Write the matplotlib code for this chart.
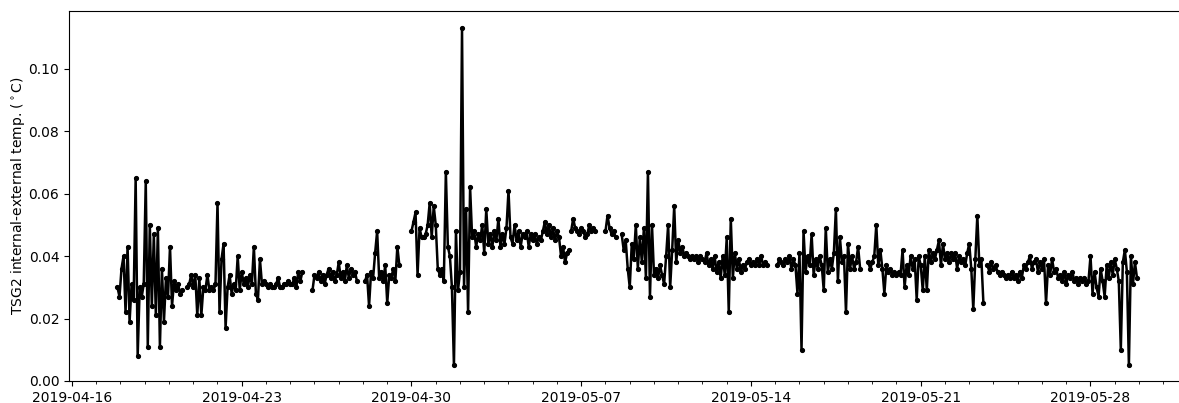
import numpy as np
import pandas as pd
import matplotlib
matplotlib.use('Agg')
import matplotlib.pyplot as plt
import matplotlib.dates as mdates

# TSG2 internal - external temperature difference, one value every 2 hours per segment
seg_starts = ['2019-04-17 21:00', '2019-04-20 18:00', '2019-04-25 22:00', '2019-04-28 02:00',
              '2019-04-30 00:00', '2019-05-06 14:00', '2019-05-08 00:00', '2019-05-08 16:00',
              '2019-05-15 02:00', '2019-05-18 20:00', '2019-05-23 18:00']

seg_a = [0.030, 0.027, 0.036, 0.040, 0.022, 0.043, 0.019, 0.031, 0.026, 0.065, 0.008, 0.030,
         0.027, 0.031, 0.064, 0.011, 0.050, 0.024, 0.047, 0.021, 0.049, 0.011, 0.036, 0.019,
         0.033, 0.027, 0.043, 0.024, 0.032, 0.029, 0.031, 0.028, 0.029]
seg_b = [0.030, 0.031, 0.034, 0.030, 0.034, 0.021, 0.033, 0.021, 0.030, 0.029, 0.034, 0.029,
         0.030, 0.029, 0.031, 0.057, 0.022, 0.039, 0.044, 0.017, 0.030, 0.034, 0.028, 0.031,
         0.029, 0.040, 0.029, 0.035, 0.031, 0.033, 0.030, 0.034, 0.031, 0.043, 0.028, 0.026,
         0.039, 0.031, 0.032, 0.031, 0.030, 0.031, 0.030, 0.030, 0.031, 0.033, 0.030, 0.030,
         0.031, 0.031, 0.032, 0.031, 0.031, 0.033, 0.030, 0.035, 0.032, 0.035]
seg_c = [0.029, 0.034, 0.033, 0.035, 0.032, 0.034, 0.031, 0.034, 0.036, 0.033, 0.035, 0.032,
         0.034, 0.038, 0.033, 0.035, 0.032, 0.037, 0.033, 0.036, 0.034, 0.035, 0.032]
seg_d = [0.032, 0.034, 0.024, 0.035, 0.033, 0.041, 0.048, 0.033, 0.035, 0.032, 0.037, 0.025,
         0.034, 0.033, 0.036, 0.032, 0.043, 0.037]
seg_e = [0.048, 0.051, 0.054, 0.034, 0.049, 0.046, 0.046, 0.047, 0.050, 0.057, 0.046, 0.056,
         0.050, 0.036, 0.034, 0.036, 0.032, 0.067, 0.043, 0.040, 0.030, 0.005, 0.048, 0.029,
         0.035, 0.113, 0.030, 0.055, 0.022, 0.062, 0.046, 0.048, 0.043, 0.047, 0.045, 0.050,
         0.041, 0.055, 0.044, 0.047, 0.043, 0.048, 0.045, 0.052, 0.043, 0.047, 0.044, 0.049,
         0.061, 0.046, 0.044, 0.050, 0.045, 0.048, 0.043, 0.047, 0.046, 0.048, 0.043, 0.047,
         0.045, 0.047, 0.044, 0.046, 0.045, 0.048, 0.051, 0.047, 0.050, 0.046, 0.049, 0.045,
         0.048, 0.046, 0.040, 0.043, 0.038, 0.041, 0.042]
seg_f = [0.048, 0.052, 0.049, 0.048, 0.047, 0.049, 0.048, 0.046, 0.047, 0.050, 0.048, 0.049, 0.048]
seg_g = [0.048, 0.053, 0.049, 0.047, 0.048, 0.046]
seg_h = [0.047, 0.042, 0.045, 0.036, 0.030, 0.044, 0.039, 0.050, 0.036, 0.046, 0.038, 0.049,
         0.033, 0.067, 0.027, 0.050, 0.034, 0.036, 0.033, 0.037, 0.034, 0.031, 0.040, 0.050,
         0.030, 0.042, 0.056, 0.038, 0.045, 0.041, 0.043, 0.040, 0.041, 0.040, 0.039, 0.040,
         0.039, 0.040, 0.038, 0.040, 0.039, 0.038, 0.041, 0.037, 0.039, 0.036, 0.040, 0.035,
         0.038, 0.033, 0.040, 0.034, 0.046, 0.022, 0.052, 0.033, 0.041, 0.036, 0.039, 0.035,
         0.037, 0.036, 0.038, 0.039, 0.037, 0.038, 0.037, 0.039, 0.037, 0.040, 0.037, 0.038, 0.037]
seg_i = [0.037, 0.039, 0.038, 0.037, 0.039, 0.038, 0.040, 0.036, 0.039, 0.037, 0.028, 0.041,
         0.010, 0.048, 0.035, 0.040, 0.037, 0.047, 0.034, 0.039, 0.036, 0.040, 0.037, 0.029,
         0.049, 0.035, 0.039, 0.036, 0.041, 0.055, 0.032, 0.046, 0.038, 0.040, 0.022, 0.044,
         0.036, 0.040, 0.036, 0.038, 0.043, 0.036]
seg_j = [0.038, 0.036, 0.038, 0.040, 0.050, 0.037, 0.042, 0.036, 0.028, 0.037, 0.035, 0.036,
         0.034, 0.035, 0.034, 0.035, 0.034, 0.042, 0.030, 0.037, 0.034, 0.040, 0.036, 0.039,
         0.026, 0.040, 0.037, 0.029, 0.040, 0.029, 0.042, 0.038, 0.041, 0.039, 0.042, 0.045,
         0.037, 0.044, 0.039, 0.041, 0.038, 0.041, 0.039, 0.041, 0.036, 0.040, 0.038, 0.039,
         0.037, 0.041, 0.044, 0.036, 0.023, 0.039, 0.053, 0.037, 0.039, 0.025]
seg_k = [0.037, 0.035, 0.038, 0.036, 0.037, 0.035, 0.034, 0.035, 0.034, 0.033, 0.034, 0.033,
         0.035, 0.033, 0.034, 0.032, 0.035, 0.033, 0.037, 0.036, 0.038, 0.040, 0.036, 0.038,
         0.039, 0.035, 0.038, 0.036, 0.039, 0.025, 0.037, 0.034, 0.039, 0.035, 0.036, 0.033,
         0.034, 0.032, 0.035, 0.031, 0.034, 0.033, 0.035, 0.032, 0.033, 0.031, 0.033, 0.032,
         0.033, 0.031, 0.032, 0.040, 0.028, 0.035, 0.030, 0.027, 0.036, 0.032, 0.027, 0.037,
         0.033, 0.038, 0.034, 0.039, 0.036, 0.032, 0.010, 0.038, 0.042, 0.035, 0.005, 0.040,
         0.031, 0.038, 0.033]
segments = [seg_a, seg_b, seg_c, seg_d, seg_e, seg_f, seg_g, seg_h, seg_i, seg_j, seg_k]

# weekly labelled ticks
tick_dates = ['2019-04-16', '2019-04-23', '2019-04-30', '2019-05-07',
              '2019-05-14', '2019-05-21', '2019-05-28']

# join the segments with NaN breaks so gaps show up
times = []
vals = []
for start, seg in zip(seg_starts, segments):
    t = pd.date_range(start, periods=len(seg), freq='2h')
    times.extend(list(t))
    vals.extend(seg)
    times.append(t[-1] + pd.Timedelta(hours=1))
    vals.append(np.nan)
times = pd.DatetimeIndex(times)

fig = plt.figure(figsize=(11.79, 4.03), dpi=100)
ax = fig.add_axes([69 / 1179, 22 / 403, 1112 / 1179, 370 / 403])
ax.plot(times, vals, 'k.-', markersize=5.5, linewidth=1.8)

d0 = mdates.date2num(pd.Timestamp('2019-04-16'))
ax.set_xlim(d0 - 3 / 24.25, d0 + 1109 / 24.25)
ax.set_ylim(0, 0.1185)
ax.set_xticks(mdates.date2num(pd.to_datetime(tick_dates)))
ax.xaxis.set_minor_locator(mdates.DayLocator())
ax.xaxis.set_major_formatter(mdates.DateFormatter('%Y-%m-%d'))
ax.set_ylabel('TSG2 internal-external temp. ($^\\circ$C)', labelpad=1)
ax.spines['right'].set_visible(False)

plt.savefig('out.png', dpi=100)
